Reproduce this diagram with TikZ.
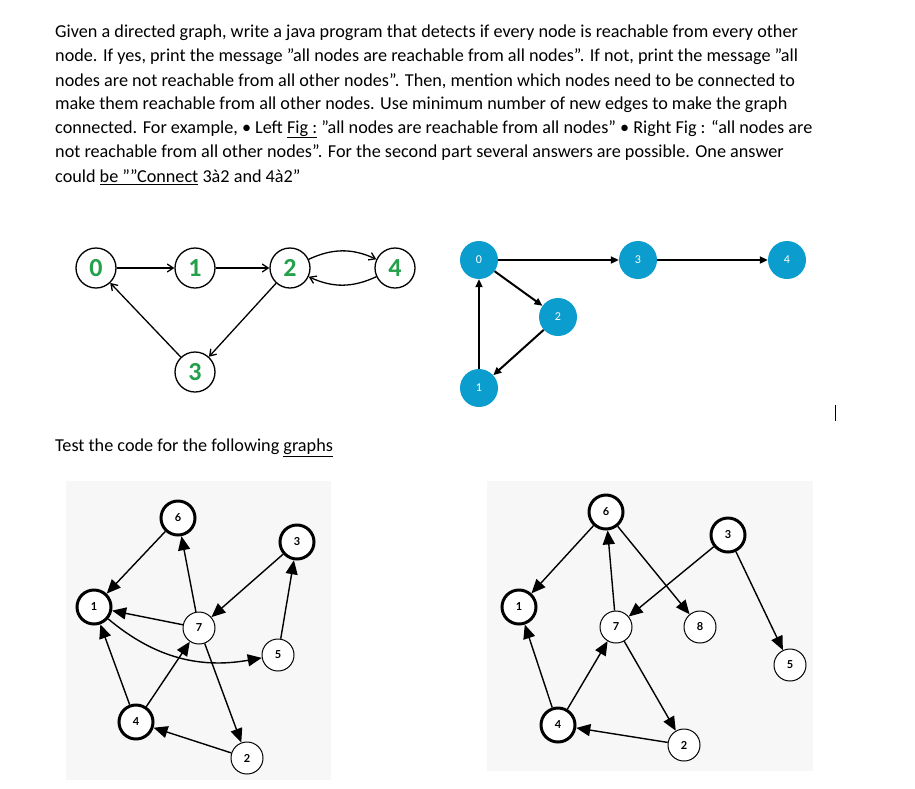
\documentclass[tikz,border=0pt]{standalone}
\usepackage{fontspec}
\setmainfont{Carlito}
\newfontfamily\lato{Lato}
\usetikzlibrary{arrows.meta}
\definecolor{tealblue}{HTML}{0C9DCF}
\definecolor{dgreen}{HTML}{22A04A}
\begin{document}
\begin{tikzpicture}[x=1pt,y=-1pt,
  txt/.style={anchor=west,inner sep=0pt,font=\fontsize{18.2}{20}\selectfont},
  gn/.style={circle,draw,line width=1.3pt,minimum size=40pt,inner sep=0pt,text=dgreen,font=\fontsize{26}{26}\selectfont\bfseries},
  bn/.style={circle,fill=tealblue,minimum size=38pt,inner sep=0pt,text=white,font=\fontsize{12}{12}\selectfont},
  wn/.style={circle,draw,fill=white,line width=1pt,minimum size=32pt,inner sep=0pt,font=\lato\bfseries\fontsize{11}{11}\selectfont},
  tn/.style={wn,line width=3pt,minimum size=34pt},
  ga/.style={-{Straight Barb[length=6pt,width=8pt]},line width=1.3pt},
  ba/.style={-{Triangle[length=8pt,width=7pt]},line width=2pt},
  ka/.style={-{Triangle[length=14pt,width=12pt]},line width=1.4pt}]
\useasboundingbox (0,0) rectangle (915,788);
\fill[white] (0,0) rectangle (915,788);
\node[txt] (t1) at (55,33) {Given a directed graph, write a java program that detects if every node is reachable from every other};
\node[txt] (t2) at (55,57) {node. If yes, print the message "all nodes are reachable from all nodes". If not, print the message "all};
\node[txt] (t3) at (55,81) {nodes are not reachable from all other nodes". Then, mention which nodes need to be connected to};
\node[txt] (t4) at (55,105) {make them reachable from all other nodes. Use minimum number of new edges to make the graph};
\node[txt] (t5) at (55,129) {connected. For example, • Left \underline{Fig :} "all nodes are reachable from all nodes" • Right Fig : “all nodes are};
\node[txt] (t6) at (55,153) {not reachable from all other nodes”. For the second part several answers are possible. One answer};
\node[txt] (t7) at (55,177) {could \underline{be ""Connect} 3à2 and 4à2”};
\node[txt] (t8) at (55,448) {Test the code for the following \underline{graphs}};
% left top graph
\node[gn] (a0) at (96,268) {0};
\node[gn] (a1) at (195,268) {1};
\node[gn] (a2) at (290,268) {2};
\node[gn] (a4) at (395,268) {4};
\node[gn] (a3) at (195,372) {3};
\draw[ga] (a0) -- (a1);
\draw[ga] (a1) -- (a2);
\draw[ga] (a2) to[bend left=25] (a4);
\draw[ga] (a4) to[bend left=25] (a2);
\draw[ga] (a2) -- (a3);
\draw[ga] (a3) -- (a0);
% right top graph
\node[bn] (b0) at (479,260) {0};
\node[bn] (b3) at (638,260) {3};
\node[bn] (b4) at (787,260) {4};
\node[bn] (b2) at (558,317) {2};
\node[bn] (b1) at (479,388) {1};
\draw[ba] (b0) -- (b3);
\draw[ba] (b3) -- (b4);
\draw[ba] (b0) -- (b2);
\draw[ba] (b2) -- (b1);
\draw[ba] (b1) -- (b0);
\draw[line width=1pt] (835,405) -- (835,421);
% bottom left
\fill[gray!6] (66,481) rectangle (331,780);
\node[tn] (c6) at (178,518) {6};
\node[tn] (c3) at (297,542) {3};
\node[tn] (c1) at (94,607) {1};
\node[wn] (c7) at (199,628) {7};
\node[wn] (c5) at (278,655) {5};
\node[tn] (c4) at (136,722) {4};
\node[wn] (c2) at (247,758) {2};
\draw[ka] (c6) -- (c1);
\draw[ka] (c7) -- (c6);
\draw[ka] (c3) -- (c7);
\draw[ka] (c5) -- (c3);
\draw[ka] (c7) -- (c1);
\draw[ka] (c1) to[out=-40,in=190] (c5);
\draw[ka] (c4) -- (c1);
\draw[ka] (c4) -- (c7);
\draw[ka] (c7) -- (c2);
\draw[ka] (c2) -- (c4);
% bottom right
\fill[gray!6] (487,481) rectangle (813,771);
\node[tn] (d6) at (606,512) {6};
\node[tn] (d3) at (728,535) {3};
\node[tn] (d1) at (519,607) {1};
\node[wn] (d7) at (616,627) {7};
\node[wn] (d8) at (700,627) {8};
\node[wn] (d5) at (790,665) {5};
\node[tn] (d4) at (558,725) {4};
\node[wn] (d2) at (684,745) {2};
\draw[ka] (d6) -- (d1);
\draw[ka] (d7) -- (d6);
\draw[ka] (d6) -- (d8);
\draw[ka] (d3) -- (d7);
\draw[ka] (d3) -- (d5);
\draw[ka] (d4) -- (d1);
\draw[ka] (d4) -- (d7);
\draw[ka] (d7) -- (d2);
\draw[ka] (d2) -- (d4);
\end{tikzpicture}
\end{document}
